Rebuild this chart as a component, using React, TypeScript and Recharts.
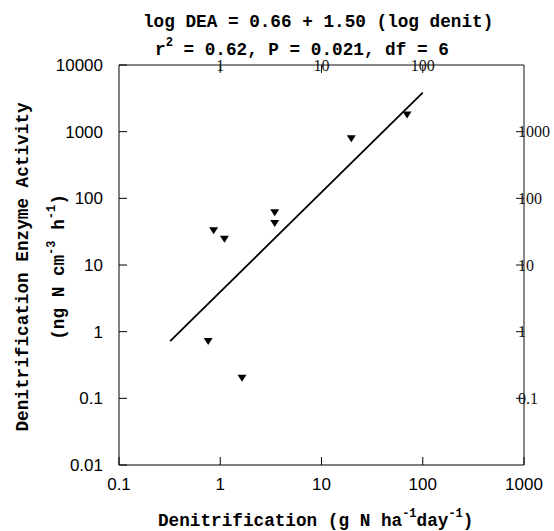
import { ScatterChart, Scatter, XAxis, YAxis } from 'recharts';

// values (log-log axes)
const denit = [0.76, 1.64, 0.86, 1.1, 3.45, 3.45, 19.7, 70];
const dea = [0.71, 0.2, 32.5, 24.3, 61, 42, 780, 1780];
const fitX = [0.32, 100];
const fitY = [0.72, 3850];
const xTicks = [0.1, 1, 10, 100, 1000];
const yTicks = [0.01, 0.1, 1, 10, 100, 1000, 10000];
const topTicks = [1, 10, 100];
const rightTicks = [0.1, 1, 10, 100, 1000];

const points = denit.map((x, i) => ({ x, y: dea[i] }));
const fit = fitX.map((x, i) => ({ x, y: fitY[i] }));

const W = 554;
const H = 531;

const MONO = '"Liberation Mono", "Courier New", monospace';
const SANS = '"Liberation Sans", Arial, sans-serif';
const tickFont = { fontFamily: SANS, fontSize: 17, fill: '#000' };

const Tri = ({ cx, cy }: any) => (
  <path d={`M${cx - 4.5},${cy - 3.5} L${cx + 4.5},${cy - 3.5} L${cx},${cy + 3.5} Z`} fill="#000" />
);

const NoDot = () => <g />;

export default function App() {
  return (
    <div style={{ position: 'absolute', left: 0, top: 0, width: W, height: H, background: '#fff' }}>
      <ScatterChart width={W} height={H} margin={{ top: 0, right: 0, left: 0, bottom: 0 }}>
        <XAxis xAxisId="b" dataKey="x" type="number" scale="log" domain={[0.1, 1000]} ticks={xTicks}
          allowDataOverflow height={66} stroke="#000" tickSize={-8} tickMargin={21} tick={tickFont} />
        <XAxis xAxisId="t" orientation="top" dataKey="x" type="number" scale="log" domain={[0.1, 1000]}
          ticks={topTicks} allowDataOverflow height={65} stroke="#111" tickSize={-8} />
        <YAxis yAxisId="l" dataKey="y" type="number" scale="log" domain={[0.01, 10000]} ticks={yTicks}
          allowDataOverflow width={119} stroke="#000" tickSize={-8} tickMargin={24} tick={tickFont} />
        <YAxis yAxisId="r" orientation="right" dataKey="y" type="number" scale="log" domain={[0.01, 10000]}
          ticks={rightTicks} allowDataOverflow width={30} stroke="#111" tickSize={-8} />
        <Scatter xAxisId="b" yAxisId="l" data={fit} line={{ stroke: '#000', strokeWidth: 1.8 }}
          shape={<NoDot />} isAnimationActive={false} />
        <Scatter xAxisId="t" yAxisId="r" data={points} shape={<Tri />} isAnimationActive={false} />
      </ScatterChart>
      <svg width={W} height={H} style={{ position: 'absolute', left: 0, top: 0, pointerEvents: 'none' }}>
        <g fontFamily={MONO} fontWeight="bold" fill="#000">
          <text x={143} y={27} fontSize={17.7}>log DEA = 0.66 + 1.50 (log denit)</text>
          <text x={155} y={55} fontSize={17.7}>
            r<tspan fontSize={12} dy={-9}>2</tspan>
            <tspan dy={9}> = 0.62, P = 0.021, df = 6</tspan>
          </text>
          <text x={158} y={526} fontSize={17.7}>
            Denitrification (g N ha<tspan fontSize={12} dy={-9}>-1</tspan>
            <tspan dy={9}>day</tspan>
            <tspan fontSize={12} dy={-9}>-1</tspan>
            <tspan dy={9}>)</tspan>
          </text>
          <text transform="translate(28,267) rotate(-90)" textAnchor="middle" fontSize={17.7}>
            Denitrification Enzyme Activity
          </text>
          <text transform="translate(64,267) rotate(-90)" textAnchor="middle" fontSize={17.7}>
            (ng N cm<tspan fontSize={12} dy={-9}>-3</tspan>
            <tspan dy={9}> h</tspan>
            <tspan fontSize={12} dy={-9}>-1</tspan>
            <tspan dy={9}>)</tspan>
          </text>
        </g>
      </svg>
    </div>
  );
}
